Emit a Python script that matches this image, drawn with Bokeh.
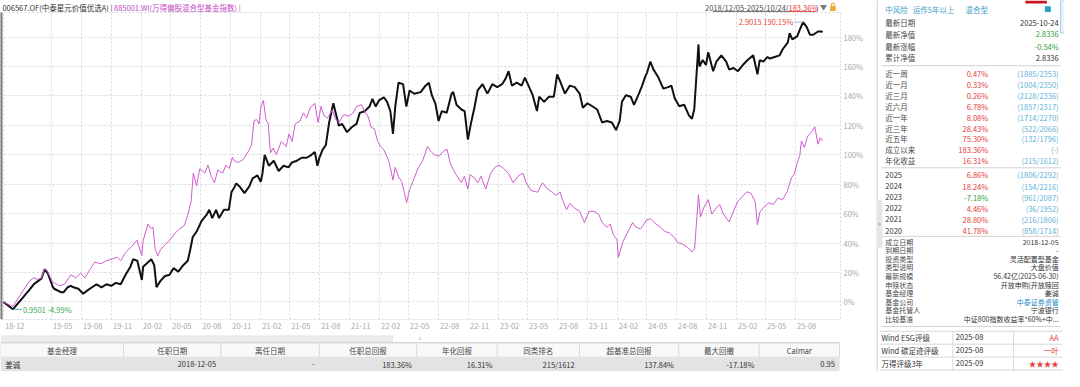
import numpy as np
import pandas as pd
from bokeh.plotting import figure
from bokeh.layouts import row, column
from bokeh.models import (Range1d, FixedTicker, DatetimeTickFormatter, Label, Span,
                          ColumnDataSource)
from bokeh.core.properties import value
from bokeh.embed import file_html
from bokeh.resources import INLINE

FONT = "Noto Sans CJK SC"

# ------------------------------------------------------------------ data
FUND_LABEL = "006567.OF(中泰星元价值优选A) | "
INDEX_LABEL = "885001.WI(万得偏股混合型基金指数) |"
PERIOD_TEXT = "2018/12/05-2025/10/24("
PERIOD_RETURN = "183.36%"

# cumulative return (%) of the fund
FUND_SERIES = [
    ("2018-12-05", 0.0), ("2019-01-03", -4.99), ("2019-02-22", 8.0), ("2019-03-08", 12.0),
    ("2019-03-20", 14.0), ("2019-04-01", 16.0), ("2019-04-10", 22.0), ("2019-04-20", 19.6),
    ("2019-04-26", 16.0), ("2019-05-06", 10.0), ("2019-05-10", 9.0), ("2019-05-30", 6.7),
    ("2019-06-08", 6.7), ("2019-06-20", 10.0), ("2019-06-30", 11.0), ("2019-07-08", 10.0),
    ("2019-07-23", 9.0), ("2019-08-07", 5.6), ("2019-08-19", 7.7), ("2019-09-03", 10.0),
    ("2019-09-17", 12.0), ("2019-10-02", 10.0), ("2019-10-17", 12.0), ("2019-11-01", 11.0),
    ("2019-11-15", 13.0), ("2019-11-30", 12.0), ("2019-12-15", 18.5), ("2019-12-30", 24.0),
    ("2020-01-07", 29.0), ("2020-01-20", 28.0), ("2020-02-03", 15.0), ("2020-02-07", 24.0),
    ("2020-02-22", 27.0), ("2020-03-03", 29.0), ("2020-03-12", 25.0), ("2020-03-19", 10.0),
    ("2020-03-30", 14.0), ("2020-04-13", 17.5), ("2020-04-28", 18.5), ("2020-05-10", 23.0),
    ("2020-05-25", 20.6), ("2020-06-09", 25.0), ("2020-06-23", 28.0), ("2020-07-01", 36.0),
    ("2020-07-08", 44.0), ("2020-07-22", 48.6), ("2020-08-04", 55.0), ("2020-08-19", 59.0),
    ("2020-08-28", 62.6), ("2020-09-06", 57.0), ("2020-09-18", 62.6), ("2020-09-27", 57.0),
    ("2020-10-12", 62.6), ("2020-10-27", 62.6), ("2020-11-04", 74.5), ("2020-11-10", 76.7),
    ("2020-11-19", 80.6), ("2020-11-29", 78.5), ("2020-12-14", 74.0), ("2020-12-29", 78.5),
    ("2021-01-08", 84.0), ("2021-01-23", 86.0), ("2021-02-02", 81.7), ("2021-02-07", 87.0),
    ("2021-02-14", 100.0), ("2021-02-27", 92.6), ("2021-03-14", 96.0), ("2021-03-29", 89.0),
    ("2021-04-13", 92.6), ("2021-04-28", 91.5), ("2021-05-09", 94.8), ("2021-05-24", 96.0),
    ("2021-06-08", 98.0), ("2021-06-23", 98.0), ("2021-07-08", 100.0), ("2021-07-18", 102.0),
    ("2021-07-26", 92.6), ("2021-08-01", 98.0), ("2021-08-11", 103.5), ("2021-08-21", 106.7),
    ("2021-08-31", 122.0), ("2021-09-13", 135.0), ("2021-09-20", 128.5), ("2021-09-30", 119.8),
    ("2021-10-10", 121.0), ("2021-10-25", 115.4), ("2021-11-08", 118.7), ("2021-11-23", 121.0),
    ("2021-12-03", 128.5), ("2021-12-18", 129.6), ("2022-01-02", 132.8), ("2022-01-11", 138.0),
    ("2022-01-21", 132.8), ("2022-01-31", 137.0), ("2022-02-15", 139.0), ("2022-02-25", 136.0),
    ("2022-03-07", 129.6), ("2022-03-15", 114.3), ("2022-03-22", 132.8), ("2022-04-01", 149.0),
    ("2022-04-15", 148.0), ("2022-04-25", 132.8), ("2022-05-05", 143.7), ("2022-05-19", 141.5),
    ("2022-06-08", 142.6), ("2022-06-23", 147.0), ("2022-07-03", 149.0), ("2022-07-13", 140.0),
    ("2022-07-23", 135.0), ("2022-08-02", 123.0), ("2022-08-12", 129.7), ("2022-08-27", 128.6),
    ("2022-09-11", 141.6), ("2022-09-16", 142.7), ("2022-09-26", 134.0), ("2022-10-11", 130.8),
    ("2022-10-21", 129.7), ("2022-10-31", 110.3), ("2022-11-10", 122.0), ("2022-11-20", 132.0),
    ("2022-11-30", 143.8), ("2022-12-15", 148.0), ("2022-12-30", 141.6), ("2023-01-14", 148.0),
    ("2023-01-29", 146.0), ("2023-02-13", 148.0), ("2023-02-23", 151.4), ("2023-03-05", 156.8),
    ("2023-03-15", 147.0), ("2023-03-30", 149.0), ("2023-04-14", 147.0), ("2023-04-24", 152.4),
    ("2023-05-03", 148.0), ("2023-05-18", 140.5), ("2023-05-31", 129.7), ("2023-06-07", 139.5),
    ("2023-06-22", 136.0), ("2023-07-07", 139.5), ("2023-07-22", 139.5), ("2023-08-01", 154.6),
    ("2023-08-10", 150.0), ("2023-08-25", 141.6), ("2023-09-09", 147.0), ("2023-09-24", 146.0),
    ("2023-10-09", 141.6), ("2023-10-19", 132.0), ("2023-11-02", 135.0), ("2023-11-17", 133.0),
    ("2023-12-02", 130.8), ("2023-12-17", 122.0), ("2024-01-01", 123.0), ("2024-01-16", 122.0),
    ("2024-01-29", 116.8), ("2024-02-09", 123.0), ("2024-02-16", 136.0), ("2024-02-28", 140.5),
    ("2024-03-14", 139.5), ("2024-03-24", 134.0), ("2024-04-08", 141.6), ("2024-04-18", 147.0),
    ("2024-04-28", 153.5), ("2024-05-03", 155.7), ("2024-05-13", 163.3), ("2024-05-23", 157.9),
    ("2024-06-07", 152.5), ("2024-06-22", 145.0), ("2024-07-07", 146.0), ("2024-07-17", 147.0),
    ("2024-07-27", 138.5), ("2024-08-10", 133.0), ("2024-08-25", 134.0), ("2024-09-09", 126.6),
    ("2024-09-18", 124.5), ("2024-09-25", 131.0), ("2024-10-08", 175.0), ("2024-10-11", 160.0),
    ("2024-10-21", 164.4), ("2024-10-31", 161.0), ("2024-11-07", 169.7), ("2024-11-22", 156.8),
    ("2024-12-02", 163.3), ("2024-12-17", 167.6), ("2025-01-01", 163.3), ("2025-01-10", 158.0),
    ("2025-01-24", 159.0), ("2025-02-06", 156.8), ("2025-02-21", 161.0), ("2025-03-08", 164.4),
    ("2025-03-25", 167.6), ("2025-04-07", 154.7), ("2025-04-14", 164.4), ("2025-04-25", 163.3),
    ("2025-05-08", 166.5), ("2025-05-15", 165.4), ("2025-05-30", 166.5), ("2025-06-14", 167.6),
    ("2025-06-24", 171.9), ("2025-07-09", 176.2), ("2025-07-15", 182.7), ("2025-07-23", 178.4),
    ("2025-08-07", 180.5), ("2025-08-17", 186.0), ("2025-08-25", 190.15), ("2025-09-05", 187.0),
    ("2025-09-15", 181.6), ("2025-09-25", 181.6), ("2025-10-10", 183.8), ("2025-10-20", 183.8),
    ("2025-10-24", 183.36),
]

# cumulative return (%) of the benchmark index 885001.WI
INDEX_SERIES = [
    ("2018-12-05", 0.0), ("2019-01-03", -3.0), ("2019-02-22", 14.0), ("2019-03-08", 16.4),
    ("2019-03-20", 15.3), ("2019-04-01", 16.4), ("2019-04-10", 22.8), ("2019-04-17", 21.8),
    ("2019-04-24", 18.5), ("2019-05-06", 13.0), ("2019-05-11", 13.0), ("2019-05-26", 11.0),
    ("2019-06-10", 12.0), ("2019-06-30", 18.5), ("2019-07-15", 16.4), ("2019-07-30", 19.6),
    ("2019-08-12", 16.4), ("2019-08-27", 21.8), ("2019-09-11", 27.0), ("2019-10-01", 26.0),
    ("2019-10-16", 28.0), ("2019-11-05", 29.3), ("2019-11-20", 30.4), ("2019-11-30", 28.0),
    ("2019-12-15", 33.6), ("2020-01-04", 38.0), ("2020-01-19", 42.0), ("2020-02-03", 31.5),
    ("2020-02-07", 42.0), ("2020-02-22", 53.0), ("2020-03-03", 49.8), ("2020-03-08", 50.9),
    ("2020-03-15", 35.8), ("2020-03-23", 31.5), ("2020-04-01", 35.8), ("2020-04-15", 39.0),
    ("2020-04-29", 42.0), ("2020-05-14", 46.5), ("2020-05-29", 49.8), ("2020-06-13", 52.0),
    ("2020-06-23", 59.5), ("2020-07-03", 68.0), ("2020-07-10", 87.5), ("2020-07-20", 78.9),
    ("2020-07-30", 90.7), ("2020-08-14", 87.5), ("2020-08-24", 92.9), ("2020-09-03", 85.3),
    ("2020-09-13", 81.0), ("2020-09-23", 89.7), ("2020-10-08", 87.5), ("2020-10-18", 92.9),
    ("2020-10-28", 90.7), ("2020-11-07", 98.3), ("2020-11-12", 96.0), ("2020-11-26", 94.8),
    ("2020-12-11", 97.0), ("2020-12-26", 102.4), ("2021-01-05", 106.7), ("2021-01-12", 123.0),
    ("2021-01-20", 124.0), ("2021-01-28", 121.0), ("2021-02-02", 131.7), ("2021-02-10", 137.0),
    ("2021-02-18", 124.0), ("2021-02-25", 121.0), ("2021-03-04", 101.3), ("2021-03-12", 104.6),
    ("2021-03-22", 100.2), ("2021-04-06", 109.0), ("2021-04-21", 105.7), ("2021-04-30", 114.3),
    ("2021-05-09", 109.0), ("2021-05-19", 121.0), ("2021-06-03", 123.0), ("2021-06-13", 128.5),
    ("2021-06-23", 125.0), ("2021-07-03", 131.7), ("2021-07-18", 135.0), ("2021-07-28", 122.0),
    ("2021-08-06", 132.8), ("2021-08-16", 126.3), ("2021-08-26", 125.0), ("2021-09-10", 130.6),
    ("2021-09-20", 124.0), ("2021-09-30", 122.0), ("2021-10-15", 127.4), ("2021-10-30", 126.3),
    ("2021-11-13", 128.5), ("2021-11-23", 132.8), ("2021-12-08", 134.0), ("2021-12-18", 129.6),
    ("2021-12-28", 126.3), ("2022-01-07", 118.7), ("2022-01-17", 117.6), ("2022-01-27", 109.0),
    ("2022-02-05", 105.7), ("2022-02-15", 103.5), ("2022-03-02", 95.9), ("2022-03-15", 82.8),
    ("2022-03-22", 91.5), ("2022-04-01", 85.0), ("2022-04-11", 81.7), ("2022-04-26", 67.6),
    ("2022-05-05", 76.3), ("2022-05-15", 81.7), ("2022-05-30", 90.4), ("2022-06-14", 95.9),
    ("2022-06-29", 105.7), ("2022-07-09", 102.4), ("2022-07-19", 100.2), ("2022-08-03", 99.0),
    ("2022-08-18", 102.7), ("2022-08-28", 103.8), ("2022-09-07", 94.0), ("2022-09-22", 87.6),
    ("2022-10-11", 81.0), ("2022-10-20", 85.4), ("2022-10-31", 76.8), ("2022-11-07", 86.5),
    ("2022-11-20", 84.3), ("2022-11-30", 81.0), ("2022-12-10", 85.4), ("2022-12-25", 76.8),
    ("2023-01-09", 87.6), ("2023-01-24", 91.9), ("2023-02-03", 93.0), ("2023-02-17", 90.8),
    ("2023-03-04", 87.6), ("2023-03-19", 81.0), ("2023-04-03", 85.4), ("2023-04-18", 87.6),
    ("2023-04-28", 81.0), ("2023-05-13", 75.7), ("2023-06-02", 74.6), ("2023-06-17", 81.0),
    ("2023-07-02", 76.8), ("2023-07-17", 74.6), ("2023-07-27", 72.4), ("2023-08-10", 74.6),
    ("2023-08-20", 68.0), ("2023-08-30", 62.7), ("2023-09-09", 67.0), ("2023-09-24", 63.8),
    ("2023-10-09", 61.6), ("2023-10-24", 54.0), ("2023-11-07", 61.6), ("2023-11-22", 61.6),
    ("2023-12-07", 59.5), ("2023-12-17", 54.0), ("2024-01-01", 50.8), ("2024-01-11", 53.0),
    ("2024-01-21", 45.4), ("2024-02-01", 42.2), ("2024-02-05", 30.3), ("2024-02-19", 41.0),
    ("2024-03-05", 47.6), ("2024-03-20", 54.0), ("2024-03-30", 50.8), ("2024-04-13", 49.7),
    ("2024-04-24", 53.0), ("2024-04-30", 55.5), ("2024-05-13", 56.6), ("2024-05-28", 53.4),
    ("2024-06-12", 51.2), ("2024-06-26", 48.0), ("2024-07-11", 46.9), ("2024-07-26", 43.7),
    ("2024-08-05", 40.4), ("2024-08-20", 39.4), ("2024-09-04", 37.2), ("2024-09-18", 34.0),
    ("2024-09-26", 36.1), ("2024-10-08", 72.8), ("2024-10-14", 57.7), ("2024-10-24", 64.0),
    ("2024-11-07", 69.5), ("2024-11-18", 59.8), ("2024-12-02", 64.0), ("2024-12-12", 66.3),
    ("2024-12-23", 59.8), ("2025-01-10", 54.4), ("2025-01-24", 62.0), ("2025-02-06", 68.4),
    ("2025-02-20", 71.7), ("2025-03-06", 74.9), ("2025-03-18", 73.8), ("2025-03-31", 68.4),
    ("2025-04-07", 52.3), ("2025-04-14", 60.9), ("2025-04-25", 64.0), ("2025-05-12", 67.4),
    ("2025-05-26", 66.3), ("2025-06-09", 70.6), ("2025-06-23", 69.5), ("2025-07-07", 74.9),
    ("2025-07-21", 84.6), ("2025-07-29", 86.8), ("2025-08-07", 94.3), ("2025-08-15", 99.7),
    ("2025-08-20", 109.4), ("2025-08-29", 105.0), ("2025-09-08", 112.6), ("2025-09-22", 115.9),
    ("2025-09-30", 119.1), ("2025-10-10", 107.2), ("2025-10-17", 111.6), ("2025-10-24", 109.4),
]

X_TICK_DATES = ["2018-12-05", "2019-05-01", "2019-08-01", "2019-11-01", "2020-02-01",
                "2020-05-01", "2020-08-01", "2020-11-01", "2021-02-01", "2021-05-01",
                "2021-08-01", "2021-11-01", "2022-02-01", "2022-05-01", "2022-08-01",
                "2022-11-01", "2023-02-01", "2023-05-01", "2023-08-01", "2023-11-01",
                "2024-02-01", "2024-05-01", "2024-08-01", "2024-11-01", "2025-02-01",
                "2025-05-01", "2025-08-01"]
X_TICK_LABELS = ["18-12", "19-05", "19-08", "19-11", "20-02", "20-05", "20-08", "20-11",
                 "21-02", "21-05", "21-08", "21-11", "22-02", "22-05", "22-08", "22-11",
                 "23-02", "23-05", "23-08", "23-11", "24-02", "24-05", "24-08", "24-11",
                 "25-02", "25-05", "25-08"]
Y_TICKS = [0, 20, 40, 60, 80, 100, 120, 140, 160, 180]
Y_TICK_LABELS = ["0%", "20%", "40%", "60%", "80%", "100%", "120%", "140%", "160%", "180%"]

PANEL_TAGS = ["中风险", "运作5年以上", "混合型"]
LATEST = [("最新日期", "2025-10-24"), ("最新净值", "2.8336"), ("最新涨幅", "-0.54%"),
          ("累计净值", "2.8336")]
PERIODS = ["近一周", "近一月", "近三月", "近六月", "近一年", "近三年", "近五年", "成立以来", "年化收益"]
PERIOD_RET = [0.47, 0.33, 0.26, 6.78, 8.08, 28.43, 75.30, 183.36, 16.31]
PERIOD_RANK = ["(1885/2353)", "(1004/2350)", "(2128/2336)", "(1857/2317)", "(1714/2270)",
               "(522/2066)", "(132/1796)", "(-)", "(215/1612)"]
YEARS = ["2025", "2024", "2023", "2022", "2021", "2020"]
YEAR_RET = [6.86, 18.24, -7.18, 4.46, 28.80, 41.78]
YEAR_RANK = ["(1806/2292)", "(154/2216)", "(961/2087)", "(36/1952)", "(216/1806)", "(858/1714)"]
PROFILE = [("成立日期", "2018-12-05"), ("到期日期", "-"), ("投资类型", "灵活配置型基金"),
           ("类型说明", "大盘价值"), ("最新规模", "56.42亿(2025-06-30)"),
           ("申赎状态", "开放申购|开放赎回"), ("基金经理", "姜诚"), ("基金公司", "中泰证券资管"),
           ("基金托管人", "宁波银行"), ("比较基准", "中证800指数收益率*60%+中...")]
RATINGS = [("Wind ESG评级", "2025-08", "AA"), ("Wind 碳足迹评级", "2025-08", "一叶"),
           ("万得评级3年", "2025-09", "★★★★")]
MGR_HEADERS = ["基金经理", "任职日期", "离任日期", "任职总回报", "年化回报", "同类排名",
               "超基准总回报", "最大回撤", "Calmar"]
MGR_ROW = ["姜诚", "2018-12-05", "-", "183.36%", "16.31%", "215/1612", "137.84%", "-17.18%", "0.95"]

# ------------------------------------------------------------------ styles
RED = "#e5393b"
GREEN = "#2f9e3c"
RANKBLUE = "#5fb2da"
TEAL = "#3d9dc6"
DARK = "#333333"
LABEL = "#4a4a4a"
GRID = "#d6d6d6"
AXIS_TXT = "#a8a8a8"
FS = "7.5px"


def ms(d):
    return pd.Timestamp(d).value / 1e6


def blank(fig):
    fig.grid.visible = False
    fig.outline_line_color = None
    fig.background_fill_color = "white"
    fig.border_fill_color = "white"


fx = pd.to_datetime([d for d, _ in FUND_SERIES])
fy = np.array([v for _, v in FUND_SERIES])
ix = pd.to_datetime([d for d, _ in INDEX_SERIES])
iy = np.array([v for _, v in INDEX_SERIES])

x_start = fx[0] - pd.Timedelta(days=9)
x_end = fx[-1] + pd.Timedelta(days=55)
Y0, Y1 = -11.9, 196.7

# ------------------------------------------------------------------ title strip
tf = figure(width=876, height=12, x_range=Range1d(0, 888), y_range=Range1d(12.5, 0),
            output_backend="svg", toolbar_location=None, min_border=0,
            x_axis_location=None, y_axis_location=None)
blank(tf)


def ttext(x, txt, color, align="left", size=FS):
    tf.text(x=[x], y=[6.8], text=[txt], text_color=color, text_align=align,
            text_baseline="middle", text_font=value(FONT), text_font_size=size)


ttext(2, FUND_LABEL, DARK)
ttext(120, INDEX_LABEL, "#c447c4")
ttext(833, PERIOD_TEXT, "#4d4d4d", align="right")
ttext(833, PERIOD_RETURN, RED)
ttext(862, ")", "#4d4d4d")
tf.segment(x0=[753, 833], y0=[11.6, 11.6], x1=[833, 862], y1=[11.6, 11.6],
           line_color=["#666666", RED], line_width=1)
ttext(870, "▼", "#7a7a7a", align="center", size="7px")
tf.quad(left=[877], right=[883], top=[6], bottom=[11], fill_color="#f0a830", line_color=None)
tf.quad(left=[878.5], right=[881.5], top=[3], bottom=[6], fill_color=None,
        line_color="#f0a830", line_width=1)

# ------------------------------------------------------------------ chart
p = figure(width=876, height=319, x_axis_type="datetime", y_axis_location="right",
           x_range=Range1d(ms(x_start), ms(x_end)), y_range=Range1d(Y0, Y1),
           output_backend="svg", toolbar_location=None,
           min_border_left=0, min_border_right=36, min_border_top=0, min_border_bottom=0)
p.background_fill_color = "white"
p.border_fill_color = "white"
p.outline_line_color = GRID
p.outline_line_dash = "2 2"

# gridlines at the month starts; tick labels sit just right of each gridline
grid_ticker = FixedTicker(ticks=[ms(d) for d in X_TICK_DATES])
label_shift = pd.Timedelta(days=35)
label_ticks = [ms(pd.Timestamp(d) + label_shift) for d in X_TICK_DATES]
p.xgrid.ticker = grid_ticker
p.xaxis.ticker = FixedTicker(ticks=label_ticks)
fmt = "%y-%m"
p.xaxis.formatter = DatetimeTickFormatter(days=fmt, months=fmt, years=fmt, hours=fmt,
                                          hourmin=fmt, minutes=fmt)
p.xaxis.major_label_overrides = {t: lab for t, lab in zip(label_ticks, X_TICK_LABELS)}
yt = FixedTicker(ticks=Y_TICKS)
p.yaxis.ticker = yt
p.ygrid.ticker = yt
p.yaxis.major_label_overrides = {t: lab for t, lab in zip(Y_TICKS, Y_TICK_LABELS)}

for ax in (p.xaxis[0], p.yaxis[0]):
    ax.axis_line_color = None
    ax.major_tick_line_color = None
    ax.minor_tick_line_color = None
    ax.major_tick_out = 0
    ax.major_label_text_color = AXIS_TXT
    ax.major_label_text_font = FONT
    ax.major_label_text_font_size = FS
    ax.major_label_standoff = 3

for g in (p.xgrid[0], p.ygrid[0]):
    g.grid_line_color = GRID
    g.grid_line_dash = "2 2"
    g.grid_line_width = 1

p.add_layout(Span(location=ms(x_start), dimension="height", line_color="#7d7d7d", line_width=4))

p.line(x="x", y="y", source=ColumnDataSource(dict(x=fx, y=fy)),
       line_color="#111111", line_width=2.0)
p.line(x="x", y="y", source=ColumnDataSource(dict(x=ix, y=iy)),
       line_color="#cf5ccf", line_width=1.0)

# max / min annotations
imax = int(np.argmax(fy))
imin = int(np.argmin(fy))
vmax, vmin = fy[imax], fy[imin]
p.segment(x0=[ms(fx[imax] - pd.Timedelta(days=28))], y0=[vmax], x1=[ms(fx[imax])], y1=[vmax],
          line_color="#86c4e6", line_width=1)
p.add_layout(Label(x=ms(fx[imax]), y=vmax, x_offset=-10, y_offset=1,
                   text=f"{1 + vmax / 100:.4f} {vmax:.2f}%", text_align="right",
                   text_baseline="middle", text_color="#e8453c", text_font=FONT,
                   text_font_size=FS))
p.segment(x0=[ms(fx[imin])], y0=[vmin], x1=[ms(fx[imin] + pd.Timedelta(days=28))], y1=[vmin],
          line_color="#45b6c6", line_width=1)
p.add_layout(Label(x=ms(fx[imin]), y=vmin, x_offset=10, y_offset=0,
                   text=f"{1 + vmin / 100:.4f} {vmin:.2f}%", text_align="left",
                   text_baseline="middle", text_color="#3aa84a", text_font=FONT,
                   text_font_size=FS))

# ------------------------------------------------------------------ bottom table
tb = figure(width=876, height=40, x_range=Range1d(0, 888), y_range=Range1d(387, 345),
            output_backend="svg", toolbar_location=None, min_border=0,
            x_axis_location=None, y_axis_location=None)
blank(tb)

COL_EDGES = [0, 130, 233, 337, 440, 525, 612, 717, 802, 887]
tb.quad(left=[0], right=[415], top=[349], bottom=[356.5], fill_color="#ebebeb", line_color=None)
tb.segment(x0=[0], y0=[356.5], x1=[887], y1=[356.5], line_color="#cfcfcf", line_width=1)
tb.quad(left=[0], right=[887], top=[357], bottom=[372], fill_color="#f9f9f9",
        line_color="#dadada", line_width=1)
tb.quad(left=[0], right=[887], top=[372], bottom=[387], fill_color="#e3e3e3", line_color=None)
tb.segment(x0=COL_EDGES[1:-1], y0=[357] * 8, x1=COL_EDGES[1:-1], y1=[372] * 8,
           line_color="#dadada", line_width=1)
hc = [(COL_EDGES[i] + COL_EDGES[i + 1]) / 2 for i in range(len(MGR_HEADERS))]
tb.text(x=hc, y=[364.5] * len(hc), text=MGR_HEADERS, text_align="center", text_baseline="middle",
        text_color="#444444", text_font=value(FONT), text_font_size=FS)
tb.text(x=[5], y=[379.5], text=MGR_ROW[:1], text_align="left", text_baseline="middle",
        text_color=DARK, text_font=value(FONT), text_font_size=FS)
tb.text(x=[e - 5 for e in COL_EDGES[2:]], y=[379.5] * (len(MGR_ROW) - 1), text=MGR_ROW[1:],
        text_align="right", text_baseline="middle", text_color=DARK,
        text_font=value(FONT), text_font_size=FS)
tb.text(x=[444], y=[352.5], text=["»"], text_align="center", text_baseline="middle",
        text_color="#888888", text_font=value(FONT), text_font_size="6px", angle=-1.5708)

# ------------------------------------------------------------------ right panel
rp = figure(width=188, height=371, x_range=Range1d(888, 1080), y_range=Range1d(387, 0),
            output_backend="svg", toolbar_location=None, min_border=0,
            x_axis_location=None, y_axis_location=None)
blank(rp)

XL, XP, XR = 897, 1002, 1074
items = []  # (x, y, text, color, align, size)

for tag, tx in zip(PANEL_TAGS, [897, 925, 979]):
    items.append((tx, 9, tag, TEAL, "left", FS))

neg_today = LATEST[2][1].startswith("-")
for i, (lab, val) in enumerate(LATEST):
    y = 23 + 12.3 * i
    col = (GREEN if neg_today else RED) if i in (1, 2) else DARK
    items.append((XL, y, lab, LABEL, "left", FS))
    items.append((XR, y, val, col, "right", FS))

for i, (lab, r, rk) in enumerate(zip(PERIODS, PERIOD_RET, PERIOD_RANK)):
    y = 76 + 11.4 * i
    items.append((XL, y, lab, LABEL, "left", FS))
    items.append((XP, y, f"{r:.2f}%", RED if r > 0 else GREEN, "right", FS))
    items.append((XR, y, rk, RANKBLUE, "right", FS))

for i, (lab, r, rk) in enumerate(zip(YEARS, YEAR_RET, YEAR_RANK)):
    y = 182 + 11.6 * i
    items.append((XL, y, lab, DARK, "left", FS))
    items.append((XP, y, f"{r:.2f}%", RED if r > 0 else GREEN, "right", FS))
    items.append((XR, y, rk, RANKBLUE, "right", FS))

for i, (lab, val) in enumerate(PROFILE):
    y = 251.5 + 8.95 * i
    items.append((XL, y, lab, LABEL, "left", "7px"))
    items.append((XR, y, val, "#2a8cc7" if lab == "基金公司" else DARK, "right", "7px"))

for i, (lab, d, v) in enumerate(RATINGS):
    y = 351.5 + 13.5 * i
    items.append((893, y, lab, DARK, "left", FS))
    items.append((969, y, d, DARK, "left", FS))
    items.append((XR, y, v, RED, "right", FS))

# separators / decorations
rp.segment(x0=[888.6], y0=[0], x1=[888.6], y1=[387], line_color="#c4c4c4", line_width=1)
rp.segment(x0=[893] * 4, y0=[68, 174.5, 246, 340], x1=[1076] * 4, y1=[68, 174.5, 246, 340],
           line_color="#d2d2d2", line_width=1)
rp.segment(x0=[891] * 4, y0=[345, 358.5, 372, 385.5], x1=[1078] * 4,
           y1=[345, 358.5, 372, 385.5], line_color="#d8d8d8", line_width=1)
rp.segment(x0=[966, 1028], y0=[345, 345], x1=[966, 1028], y1=[387, 387],
           line_color="#d8d8d8", line_width=1)
rp.quad(left=[888], right=[894], top=[208], bottom=[258], fill_color="#e6e6e6", line_color=None)
rp.quad(left=[1040], right=[1062], top=[0], bottom=[3], fill_color="#c9151e", line_color=None)
rp.quad(left=[1060], right=[1066], top=[6], bottom=[12], fill_color="#2a9fc0", line_color=None)
rp.quad(left=[1076], right=[1080], top=[0], bottom=[34], fill_color="#eaf4fb",
        line_color="#9ccbeb", line_width=1)
rp.text(x=[891], y=[233], text=["»"], text_align="center", text_baseline="middle",
        text_color="#888888", text_font=value(FONT), text_font_size="6px")

for align in ("left", "right"):
    for size in (FS, "7px"):
        sel = [a for a in items if a[4] == align and a[5] == size]
        if not sel:
            continue
        src = ColumnDataSource(dict(x=[a[0] for a in sel], y=[a[1] for a in sel],
                                    t=[a[2] for a in sel], c=[a[3] for a in sel]))
        rp.text(x="x", y="y", text="t", text_color="c", source=src, text_align=align,
                text_baseline="middle", text_font=value(FONT), text_font_size=size)

layout = row(column(tf, p, tb), rp)
open("out.html", "w").write(file_html(layout, INLINE))
